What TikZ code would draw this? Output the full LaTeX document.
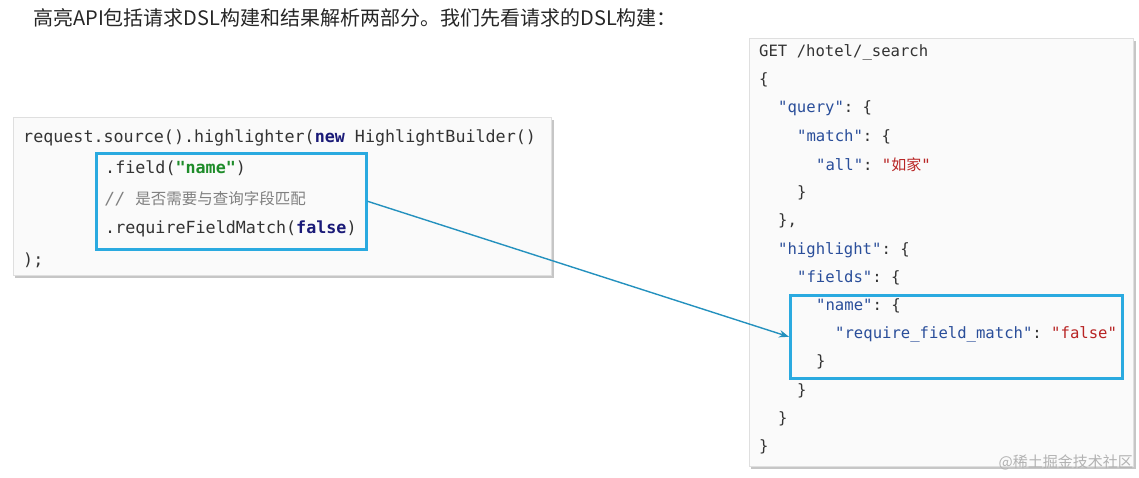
\documentclass[tikz,border=0pt]{standalone}
\usepackage{fontspec}
\usetikzlibrary{arrows.meta}
\setmonofont{DejaVu Sans Mono}
\newfontfamily\cjk{Noto Sans CJK SC}
\begin{document}
\begin{tikzpicture}[x=1pt,y=-1pt,
  code/.style={anchor=west,inner sep=0pt,font=\fontsize{16.7}{17}\ttfamily,text=black!80},
  rcode/.style={anchor=west,inner sep=0pt,font=\fontsize{15.6}{16}\ttfamily,text=black!80},
  hbox/.style={draw=hl,line width=2.6pt},
  panel/.style={fill=gray!4,draw=gray!25}]
\definecolor{hl}{HTML}{2AAAE0}
\definecolor{kw}{HTML}{2A4E9A}
\definecolor{str}{HTML}{B82424}
\definecolor{grn}{HTML}{1E8C2A}
\definecolor{nav}{HTML}{1A1A78}
\useasboundingbox (0,0) rectangle (1139,478);
\node[anchor=west,inner sep=0pt,font=\cjk\fontsize{20}{22}\selectfont,text=black!85] (title) at (33,18) {高亮API包括请求DSL构建和结果解析两部分。我们先看请求的DSL构建：};
% left panel
\fill[gray!45] (15,120) rectangle (554,278);
\node[panel,minimum width=538,minimum height=158,anchor=north west,inner sep=0pt] (lp) at (13,117) {};
\node[code] (l1) at (23,138) {request.source().highlighter(\textbf{\color{nav}new} HighlightBuilder()};
\node[code] (l2) at (105,168) {.field(\textbf{\color{grn}"name"})};
\node[code,text=gray] (l3) at (105,199) {\textit{//} {\cjk\itshape\fontsize{15.5}{17}\selectfont 是否需要与查询字段匹配}};
\node[code] (l4) at (105,229) {.requireFieldMatch(\textbf{\color{nav}false})};
\node[code] (l5) at (23,260) {);};
\node[hbox,minimum width=270,minimum height=96,anchor=north west,inner sep=0pt] (lbox) at (95,152) {};
% right panel
\fill[gray!45] (751,41) rectangle (1136,469);
\node[panel,minimum width=384,minimum height=428,anchor=north west,inner sep=0pt] (rp) at (749,38) {};
\node[rcode] (r1) at (759,52) {GET /hotel/\_search};
\node[rcode] (r2) at (759,80) {\{};
\node[rcode] (r3) at (778,108) {{\color{kw}"query"}: \{};
\node[rcode] (r4) at (797,137) {{\color{kw}"match"}: \{};
\node[rcode] (r5) at (816,165) {{\color{kw}"all"}: {\color{str}"{\cjk\fontsize{15}{16}\selectfont 如家}"}};
\node[rcode] (r6) at (797,193) {\}};
\node[rcode] (r7) at (778,221) {\},};
\node[rcode] (r8) at (778,250) {{\color{kw}"highlight"}: \{};
\node[rcode] (r9) at (797,278) {{\color{kw}"fields"}: \{};
\node[rcode] (r10) at (816,306) {{\color{kw}"name"}: \{};
\node[rcode] (r11) at (835,334) {{\color{kw}"require\_field\_match"}: {\color{str}"false"}};
\node[rcode] (r12) at (816,362) {\}};
\node[rcode] (r13) at (797,391) {\}};
\node[rcode] (r14) at (778,419) {\}};
\node[rcode] (r15) at (759,447) {\}};
\node[hbox,minimum width=332,minimum height=83,anchor=north west,inner sep=0pt] (rbox) at (789,294) {};
\draw[hl!85!black,line width=1.4pt,-{Stealth[length=10pt]}] (lbox.east) -- (rbox.west);
\node[anchor=east,inner sep=0pt,font=\cjk\fontsize{15}{16}\selectfont,text=gray!60] (wm) at (1133,462) {@稀土掘金技术社区};
\end{tikzpicture}
\end{document}
